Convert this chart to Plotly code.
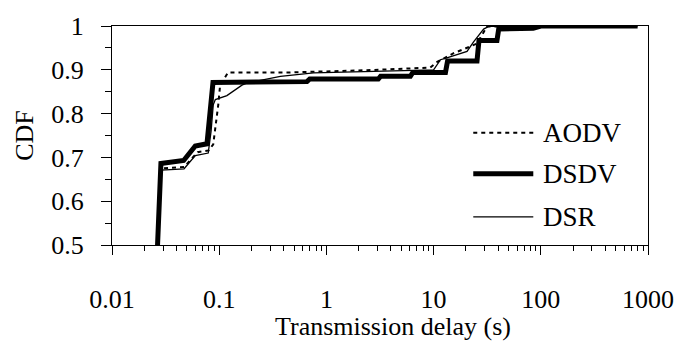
import plotly.graph_objects as go

# ---- data ----
aodv_x = [0.0266, 0.0285, 0.047, 0.063, 0.080, 0.088, 0.098, 0.102, 0.121, 0.46, 2.39, 9.3, 10.8, 15.4, 19.1, 25.4, 29.3, 31.5, 800]
aodv_y = [0.5, 0.675, 0.678, 0.712, 0.716, 0.73, 0.82, 0.865, 0.894, 0.894, 0.899, 0.905, 0.918, 0.938, 0.947, 0.960, 0.986, 0.999, 1.0]

dsdv_x = [0.0266, 0.0286, 0.0466, 0.0598, 0.0769, 0.0875, 0.659, 0.70, 3.05, 3.2, 6.07, 6.4, 12.9, 13.5, 25.4, 26.5, 39.0, 40.5, 85, 100, 800]
dsdv_y = [0.5, 0.686, 0.693, 0.726, 0.731, 0.871, 0.873, 0.879, 0.879, 0.885, 0.885, 0.894, 0.894, 0.920, 0.920, 0.967, 0.967, 0.993, 0.995, 1.0, 1.0]

dsr_x = [0.0266, 0.0288, 0.0470, 0.0598, 0.079, 0.084, 0.088, 0.092, 0.118, 0.141, 0.163, 0.182, 0.225, 0.372, 0.76, 2.0, 10.0, 11.6, 13.3, 20.5, 23.6, 29.3, 32.6, 800]
dsr_y = [0.5, 0.671, 0.674, 0.704, 0.710, 0.76, 0.82, 0.832, 0.841, 0.854, 0.865, 0.870, 0.874, 0.885, 0.893, 0.895, 0.900, 0.923, 0.927, 0.942, 0.964, 0.993, 0.999, 1.0]

series_names = ["AODV", "DSDV", "DSR"]
y_ticks = [0.5, 0.6, 0.7, 0.8, 0.9, 1.0]
y_tick_labels = ["0.5", "0.6", "0.7", "0.8", "0.9", "1"]

FONT = "Liberation Serif"

fig = go.Figure()
fig.add_trace(go.Scatter(x=aodv_x, y=aodv_y, mode="lines", name="AODV",
                         line=dict(color="black", width=2, dash="4px,4px")))
fig.add_trace(go.Scatter(x=dsdv_x, y=dsdv_y, mode="lines", name="DSDV",
                         line=dict(color="black", width=5)))
fig.add_trace(go.Scatter(x=dsr_x, y=dsr_y, mode="lines", name="DSR",
                         line=dict(color="black", width=1.3)))

# legend drawn as key lines + text inside plot
leg_y = [0.512, 0.325, 0.128]
leg_styles = [dict(color="black", width=2, dash="4px,4px"),
              dict(color="black", width=5),
              dict(color="black", width=1.3)]
for name, yy, st in zip(series_names, leg_y, leg_styles):
    fig.add_shape(type="line", xref="paper", yref="paper", x0=0.674, x1=0.786,
                  y0=yy, y1=yy, line=st)
    fig.add_annotation(xref="paper", yref="paper", x=0.800, y=yy, text=name,
                       showarrow=False, xanchor="left", yanchor="middle",
                       font=dict(family=FONT, size=27, color="black"))

# x axis title (placed as in the reference, slightly right of plot centre)
fig.add_annotation(xref="paper", yref="paper", x=0.525, y=-0.295,
                   text="Transmission delay (s)", showarrow=False,
                   xanchor="center", yanchor="top",
                   font=dict(family=FONT, size=26, color="black"))

fig.update_layout(
    width=693, height=343,
    margin=dict(l=112, r=45, t=17, b=98),
    paper_bgcolor="white", plot_bgcolor="white",
    showlegend=False,
    font=dict(family=FONT, size=26, color="black"),
)
fig.update_xaxes(
    type="log", range=[-2, 3], dtick=1, exponentformat="none",
    showline=True, linecolor="black", linewidth=1.3, mirror=True,
    showgrid=False, zeroline=False,
    ticks="outside", ticklen=9, tickwidth=1.3, tickcolor="black",
    ticklabelstandoff=22,
    minor=dict(ticks="outside", ticklen=5, tickwidth=1, tickcolor="black", dtick="D1", showgrid=False),
    tickfont=dict(family=FONT, size=26),
)
fig.update_yaxes(
    range=[0.5, 1.0], tickmode="array", tickvals=y_ticks, ticktext=y_tick_labels,
    showline=True, linecolor="black", linewidth=1.3, mirror=True,
    showgrid=False, zeroline=False,
    ticks="outside", ticklen=10, tickwidth=1.3, tickcolor="black",
    ticklabelstandoff=12,
    minor=dict(ticks="outside", ticklen=6, tickwidth=1, tickcolor="black", tickmode="linear", tick0=0.5, dtick=0.05, showgrid=False),
    title=dict(text="CDF", font=dict(family=FONT, size=26), standoff=10),
    tickfont=dict(family=FONT, size=26),
)

fig.write_html("out.html")
